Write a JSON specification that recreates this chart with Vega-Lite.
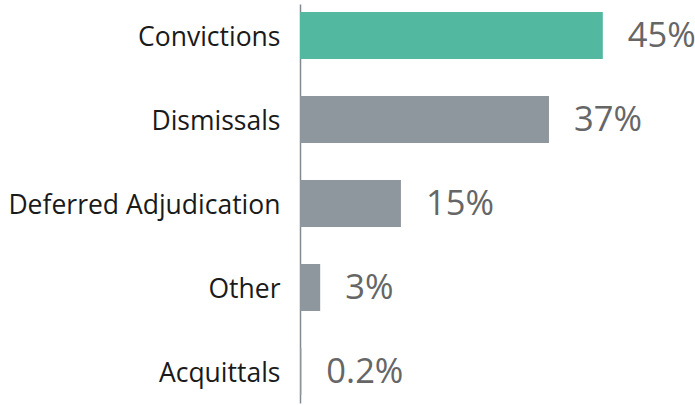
{
  "$schema": "https://vega.github.io/schema/vega-lite/v6.json",
  "autosize": "none",
  "width": 395,
  "height": 399,
  "padding": {"left": 300, "top": 4, "right": 0, "bottom": 2},
  "background": "white",
  "config": {"view": {"stroke": null}},
  "data": {
    "values": [
      {"outcome": "Convictions", "pct": 45, "label": "45%", "highlight": true},
      {"outcome": "Dismissals", "pct": 37, "label": "37%", "highlight": false},
      {"outcome": "Deferred Adjudication", "pct": 15, "label": "15%", "highlight": false},
      {"outcome": "Other", "pct": 3, "label": "3%", "highlight": false},
      {"outcome": "Acquittals", "pct": 0.2, "label": "0.2%", "highlight": false}
    ]
  },
  "encoding": {
    "y": {
      "field": "outcome",
      "type": "nominal",
      "sort": null,
      "scale": {"paddingInner": 0.44, "paddingOuter": 0.095},
      "axis": {
        "title": null,
        "ticks": false,
        "domainColor": "#7f8a93",
        "domainWidth": 1.5,
        "labelFont": "Open Sans",
        "labelFontSize": 26.5,
        "labelColor": "#1a1a1a",
        "labelPadding": 20,
        "labelLimit": 0,
        "labelOffset": 2
      }
    },
    "x": {
      "field": "pct",
      "type": "quantitative",
      "scale": {"domain": [0, 58.7], "nice": false},
      "axis": null
    }
  },
  "layer": [
    {
      "mark": {"type": "bar"},
      "encoding": {
        "color": {
          "field": "highlight",
          "type": "nominal",
          "scale": {"domain": [true, false], "range": ["#52b9a0", "#8f979e"]},
          "legend": null
        }
      }
    },
    {
      "mark": {"type": "text", "align": "left", "baseline": "middle", "dx": 25, "dy": 1, "font": "Open Sans", "fontSize": 34.5, "color": "#666666"},
      "encoding": {"text": {"field": "label"}}
    }
  ]
}
